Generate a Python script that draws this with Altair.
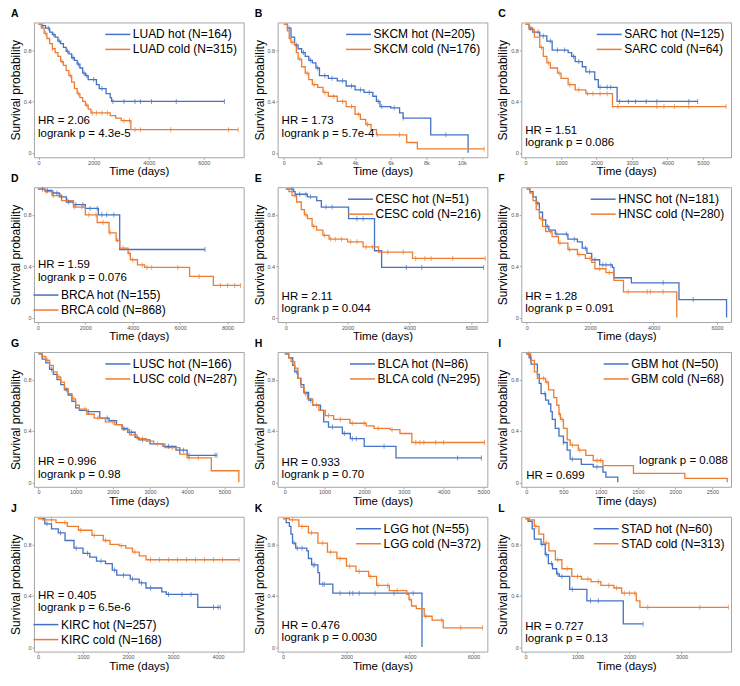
import altair as alt
import pandas as pd

FONT = "Liberation Sans"
BLUE = "#4472C4"
ORANGE = "#ED7D31"

# ---------------- survival step curves: (time in days, survival probability) ----------------
LUAD_hot = [(0,1.0),(100,0.99),(250,0.97),(400,0.94),(500,0.92),(600,0.90),(700,0.87),(800,0.85),(900,0.82),(1000,0.79),(1100,0.77),(1200,0.74),(1300,0.72),(1400,0.69),(1500,0.66),(1600,0.62),(1700,0.60),(1800,0.57),(2100,0.53),(2200,0.50),(2450,0.46),(2600,0.43),(2650,0.40),(6750,0.40)]
LUAD_cold = [(0,1.0),(100,0.97),(200,0.93),(300,0.89),(400,0.85),(500,0.81),(600,0.78),(700,0.75),(800,0.71),(900,0.68),(1000,0.64),(1100,0.60),(1200,0.55),(1300,0.50),(1400,0.46),(1500,0.43),(1600,0.40),(1700,0.37),(1800,0.34),(1900,0.31),(2600,0.29),(2800,0.27),(3000,0.25),(3350,0.18),(7250,0.18)]
SKCM_hot = [(0,1.0),(200,0.97),(400,0.90),(600,0.84),(800,0.81),(1000,0.78),(1200,0.75),(1400,0.72),(1600,0.70),(1800,0.66),(2000,0.60),(2500,0.58),(3000,0.56),(3500,0.52),(4000,0.49),(4500,0.47),(5000,0.44),(5200,0.40),(5400,0.36),(6000,0.35),(6500,0.31),(6700,0.27),(8250,0.14),(10350,0.0)]
SKCM_cold = [(0,1.0),(200,0.95),(300,0.89),(400,0.86),(600,0.84),(700,0.78),(800,0.73),(1000,0.67),(1200,0.62),(1400,0.57),(1600,0.53),(1900,0.51),(2200,0.47),(2500,0.44),(3000,0.40),(3500,0.36),(4000,0.30),(4300,0.26),(4600,0.22),(4900,0.18),(5200,0.14),(6900,0.08),(7500,0.03),(11250,0.03)]
SARC_hot = [(0,1.0),(100,0.97),(200,0.94),(400,0.91),(600,0.87),(750,0.80),(1200,0.78),(1300,0.75),(1400,0.71),(1600,0.67),(1700,0.63),(1950,0.57),(2050,0.51),(2580,0.40),(4850,0.40)]
SARC_cold = [(0,1.0),(100,0.96),(250,0.90),(400,0.82),(500,0.75),(600,0.70),(700,0.66),(900,0.62),(1000,0.58),(1200,0.53),(1400,0.49),(1700,0.46),(2450,0.36),(5650,0.36)]
BRCA_hot = [(0,1.0),(300,0.99),(600,0.97),(900,0.94),(1200,0.90),(1500,0.88),(2000,0.85),(2550,0.80),(3450,0.53),(7050,0.53)]
BRCA_cold = [(0,1.0),(300,0.98),(600,0.95),(1000,0.91),(1500,0.86),(2000,0.80),(2500,0.74),(3000,0.66),(3300,0.60),(3450,0.54),(3800,0.50),(3900,0.45),(4200,0.41),(4500,0.39),(6400,0.32),(7400,0.25),(8550,0.25)]
CESC_hot = [(0,1.0),(250,0.98),(300,0.96),(700,0.94),(1000,0.91),(1150,0.86),(2030,0.77),(2870,0.52),(3100,0.39),(6400,0.39)]
CESC_cold = [(0,1.0),(100,0.98),(200,0.95),(350,0.90),(500,0.84),(600,0.80),(700,0.77),(850,0.71),(1000,0.68),(1200,0.64),(1400,0.61),(2000,0.59),(2500,0.55),(3000,0.51),(4100,0.46),(6450,0.46)]
HNSC_hot = [(0,1.0),(100,0.98),(200,0.94),(300,0.89),(400,0.82),(500,0.76),(600,0.71),(700,0.68),(900,0.65),(1300,0.61),(1600,0.59),(1750,0.54),(1900,0.50),(2050,0.45),(2300,0.41),(2700,0.39),(2750,0.31),(3300,0.27),(4800,0.14),(6300,0.0)]
HNSC_cold = [(0,1.0),(100,0.97),(200,0.91),(300,0.84),(400,0.77),(500,0.71),(600,0.67),(800,0.63),(1000,0.58),(1300,0.53),(1600,0.49),(1850,0.46),(2050,0.43),(2150,0.38),(2500,0.35),(2750,0.29),(3050,0.20),(4730,0.0)]
LUSC_hot = [(0,1.0),(100,0.96),(200,0.93),(300,0.88),(400,0.84),(500,0.80),(600,0.76),(700,0.72),(800,0.68),(900,0.63),(1000,0.58),(1100,0.56),(1300,0.55),(1650,0.50),(1900,0.48),(2100,0.45),(2250,0.42),(2400,0.39),(2600,0.35),(2700,0.33),(3000,0.30),(3350,0.28),(3700,0.25),(4000,0.21),(4800,0.21)]
LUSC_cold = [(0,1.0),(100,0.98),(200,0.95),(300,0.91),(400,0.86),(500,0.82),(600,0.78),(700,0.73),(800,0.69),(900,0.65),(1000,0.60),(1100,0.57),(1300,0.53),(1500,0.50),(1800,0.47),(2050,0.45),(2250,0.41),(2450,0.37),(2650,0.34),(2900,0.32),(3100,0.30),(3400,0.27),(3800,0.22),(4000,0.19),(4650,0.09),(5390,0.0)]
BLCA_hot = [(0,1.0),(100,0.97),(200,0.91),(250,0.86),(330,0.81),(400,0.76),(480,0.70),(600,0.64),(700,0.60),(900,0.56),(980,0.47),(1100,0.43),(1450,0.38),(1650,0.34),(2000,0.28),(2800,0.19),(4950,0.19)]
BLCA_cold = [(0,1.0),(100,0.97),(160,0.94),(250,0.89),(330,0.81),(410,0.74),(490,0.69),(570,0.65),(700,0.60),(860,0.56),(1020,0.52),(1230,0.49),(1640,0.46),(2050,0.44),(2250,0.42),(2650,0.41),(2900,0.38),(3200,0.31),(5030,0.31)]
GBM_hot = [(0,1.0),(40,0.97),(65,0.92),(150,0.84),(175,0.77),(200,0.69),(260,0.64),(300,0.61),(330,0.55),(350,0.49),(390,0.42),(440,0.36),(500,0.31),(550,0.25),(590,0.18),(740,0.14),(900,0.12),(1030,0.08),(1070,0.04),(1230,0.0)]
GBM_cold = [(0,1.0),(60,0.95),(110,0.86),(150,0.81),(260,0.78),(300,0.72),(370,0.66),(410,0.60),(440,0.53),(460,0.49),(500,0.42),(550,0.33),(590,0.29),(700,0.25),(800,0.21),(900,0.17),(1030,0.13),(1440,0.07),(2130,0.03),(2700,0.0)]
KIRC_hot = [(0,1.0),(150,0.96),(300,0.92),(450,0.89),(600,0.83),(800,0.77),(1000,0.73),(1150,0.70),(1300,0.67),(1500,0.65),(1650,0.60),(1750,0.56),(2050,0.53),(2250,0.50),(2400,0.46),(2750,0.43),(2850,0.41),(3550,0.31),(4050,0.31)]
KIRC_cold = [(0,1.0),(100,0.99),(400,0.97),(650,0.94),(900,0.91),(1200,0.87),(1450,0.83),(1600,0.80),(1800,0.79),(1950,0.77),(2100,0.74),(2250,0.71),(2400,0.68),(4470,0.68)]
LGG_hot = [(0,1.0),(100,0.97),(200,0.94),(250,0.88),(300,0.81),(400,0.77),(750,0.75),(800,0.69),(900,0.64),(1100,0.58),(1150,0.49),(1570,0.42),(4380,0.0)]
LGG_cold = [(0,1.0),(200,0.99),(500,0.94),(800,0.89),(1100,0.81),(1400,0.74),(1700,0.69),(2000,0.63),(2300,0.59),(2700,0.55),(2950,0.48),(3350,0.44),(3900,0.41),(3970,0.37),(4050,0.32),(4200,0.30),(4450,0.24),(4700,0.21),(5050,0.15),(6290,0.15)]
STAD_hot = [(0,1.0),(50,0.98),(130,0.92),(170,0.84),(300,0.80),(380,0.72),(440,0.65),(520,0.61),(600,0.57),(650,0.55),(850,0.45),(1180,0.36),(1880,0.18),(2260,0.18)]
STAD_cold = [(0,1.0),(75,0.99),(170,0.94),(260,0.88),(350,0.81),(450,0.75),(575,0.68),(700,0.61),(890,0.55),(1075,0.53),(1260,0.51),(1450,0.48),(1700,0.46),(1850,0.42),(2130,0.36),(2200,0.31),(3900,0.31)]

# ---------------- censoring times (days) ----------------
LUAD_hot_cens = [150,350,550,750,1050,1250,1450,1650,1750,2000,2300,2700,3100,3500,3700,4100,5000,6750]
LUAD_cold_cens = [250,500,850,1150,1450,1750,1950,2100,2300,2500,3100,3300,3500,3700,4800,6900,7250]
SKCM_hot_cens = [300,700,1100,1500,1900,2300,2700,3300,3800,4300,4800,5300,5500,6200,6700,9100]
SKCM_cold_cens = [450,900,1300,1700,2300,2800,3300,3800,4200,4700,5250,6500,11250]
SARC_hot_cens = [150,350,500,700,900,1100,1350,1500,1800,2100,2300,2400,2650,2900,3100,3400,3700,4600,4850]
SARC_cold_cens = [200,450,650,950,1250,1500,1750,1900,2100,2300,2600,3700,3900,4200,4600,5650]
BRCA_hot_cens = [200,400,650,800,1000,1300,1600,1900,2200,2500,2700,2900,3200,7050]
BRCA_cold_cens = [350,650,950,1250,1550,1850,2150,2450,2750,3050,3350,3600,3850,4000,4400,4600,4800,5900,6800,7700,8000,8300,8550]
CESC_hot_cens = [200,450,650,800,1300,1500,2300,2500,3900,4400,6400]
CESC_cold_cens = [300,650,900,1250,1450,1600,1800,2100,2300,2600,2800,3300,3800,4200,4500,4700,5400,6450]
HNSC_hot_cens = [350,650,950,1250,1500,1850,2150,2400,2500,2650,4300,5250]
HNSC_cold_cens = [450,750,1050,1350,1650,2000,2300,2600,3200,3800,3900,4300]
LUSC_hot_cens = [350,750,1350,1850,2300,2500,2800,3500,3800,3900,4050,4750,4800]
LUSC_cold_cens = [250,550,950,1250,1600,2000,2400,2800,3200,3600,4050,4300]
BLCA_hot_cens = [300,650,1200,1500,1700,1800,2500,4350,4950]
BLCA_cold_cens = [200,520,800,1100,1400,1700,2000,2350,2700,3300,3400,3500,3800,4000,5030]
GBM_hot_cens = [60,250,500,620,950]
GBM_cold_cens = [30,230,280,450,480,620,720,950,1000]
KIRC_hot_cens = [200,500,850,1100,1400,1700,1900,2100,2300,2500,2900,3200,3400,3900,4000,4050]
KIRC_cold_cens = [300,600,950,1250,1500,1850,2150,2500,2700,2900,3100,3300,3500,3700,3900,4100,4470]
LGG_hot_cens = [350,450,600,950,1000,1250,1300,1800,2100,2200,2400,2900,3500,4100]
LGG_cold_cens = [300,600,900,1250,1500,1800,2100,2400,2750,3000,3300,3600,4000,4500,5000,5600,6290]
STAD_hot_cens = [320,400,500,620,700,900,1250,1400,2260]
STAD_cold_cens = [200,400,620,800,1000,1200,1400,1600,1750,1900,2000,2100,2350,3350,3900]

# ---------------- panel contents ----------------
LETTERS = ["A","B","C","D","E","F","G","H","I","J","K","L"]
CANCERS = ["LUAD","SKCM","SARC","BRCA","CESC","HNSC","LUSC","BLCA","GBM","KIRC","LGG","STAD"]
N_HOT = [164,205,125,155,51,181,166,86,50,257,55,60]
N_COLD = [315,176,64,868,216,280,287,295,68,168,372,313]
HR = ["2.06","1.73","1.51","1.59","2.11","1.28","0.996","0.933","0.699","0.405","0.476","0.727"]
LOGRANK_P = ["4.3e-5","5.7e-4","0.086","0.076","0.044","0.091","0.98","0.70","0.088","6.5e-6","0.0030","0.13"]
HOT = [LUAD_hot,SKCM_hot,SARC_hot,BRCA_hot,CESC_hot,HNSC_hot,LUSC_hot,BLCA_hot,GBM_hot,KIRC_hot,LGG_hot,STAD_hot]
COLD = [LUAD_cold,SKCM_cold,SARC_cold,BRCA_cold,CESC_cold,HNSC_cold,LUSC_cold,BLCA_cold,GBM_cold,KIRC_cold,LGG_cold,STAD_cold]
HOT_CENS = [LUAD_hot_cens,SKCM_hot_cens,SARC_hot_cens,BRCA_hot_cens,CESC_hot_cens,HNSC_hot_cens,LUSC_hot_cens,BLCA_hot_cens,GBM_hot_cens,KIRC_hot_cens,LGG_hot_cens,STAD_hot_cens]
COLD_CENS = [LUAD_cold_cens,SKCM_cold_cens,SARC_cold_cens,BRCA_cold_cens,CESC_cold_cens,HNSC_cold_cens,LUSC_cold_cens,BLCA_cold_cens,GBM_cold_cens,KIRC_cold_cens,LGG_cold_cens,STAD_cold_cens]
X_TICKS = [
    [0,1000,2000,3000,4000,5000,6000,7000],
    [0,2000,4000,6000,8000,10000],
    [0,1000,2000,3000,4000,5000],
    [0,2000,4000,6000,8000],
    [0,1000,2000,3000,4000,5000,6000],
    [0,1000,2000,3000,4000,5000,6000],
    [0,1000,2000,3000,4000,5000],
    [0,1000,2000,3000,4000,5000],
    [0,500,1000,1500,2000,2500],
    [0,1000,2000,3000,4000],
    [0,1000,2000,3000,4000,5000,6000],
    [0,500,1000,1500,2000,2500,3000,3500],
]
Y_TICKS = [0, 0.2, 0.4, 0.6, 0.8, 1]

# ---------------- layout (positions / styles) ----------------
W, H = 210, 135
X_DOM = [(-170,7450),(-350,11430),(-120,5790),(-166,8680),(-265,6520),(-170,6440),
         (-120,5520),(-180,5100),(-66,2750),(-90,4570),(-170,6440),(-80,3950)]
K_LABELS = [False, True] + [False]*10
LEG_ORIENT = ["top-right"]*3 + ["bottom-left"] + ["top-right"]*5 + ["bottom-left"] + ["top-right"]*2
# distance (px) of the HR line and the logrank line above the plot bottom
HR_D = [36,36,26,57,25.5,25,25,24,10.5,56,26,25]
P_D = [23,23,14.5,44,13,13,11.5,11.5,26,44,13.5,13]


def surv_at(curve, t):
    s = curve[0][1]
    for tt, ss in curve:
        if tt <= t:
            s = ss
        else:
            break
    return s


def panel(i):
    lab_h = f"{CANCERS[i]} hot (N={N_HOT[i]})"
    lab_c = f"{CANCERS[i]} cold (N={N_COLD[i]})"
    rows = [{"t": t, "s": s, "g": lab_h} for t, s in HOT[i]] + \
           [{"t": t, "s": s, "g": lab_c} for t, s in COLD[i]]
    crow = [{"t": t, "s": surv_at(HOT[i], t), "g": lab_h} for t in HOT_CENS[i]] + \
           [{"t": t, "s": surv_at(COLD[i], t), "g": lab_c} for t in COLD_CENS[i]]
    cscale = alt.Scale(domain=[lab_h, lab_c], range=[BLUE, ORANGE])
    if K_LABELS[i]:
        lexpr = "datum.value == 0 ? '0' : (datum.value / 1000) + 'k'"
    else:
        lexpr = "format(datum.value, 'd')"
    x = alt.X("t:Q", scale=alt.Scale(domain=list(X_DOM[i]), nice=False, zero=False),
              axis=alt.Axis(values=X_TICKS[i], labelExpr=lexpr, title="Time (days)",
                            labelFlush=False, labelOverlap=False, labelSeparation=0, labelBound=False))
    y = alt.Y("s:Q", scale=alt.Scale(domain=[-0.035, 1.015], nice=False, zero=False),
              axis=alt.Axis(values=Y_TICKS, labelExpr="format(datum.value, '~g')",
                            title="Survival probability",
                            labelOverlap=False, labelSeparation=0, labelBound=False))
    lines = alt.Chart(pd.DataFrame(rows)).mark_line(interpolate="step-after", strokeWidth=1.3).encode(
        x=x, y=y,
        color=alt.Color("g:N", scale=cscale, sort=[lab_h, lab_c],
                        legend=alt.Legend(title=None, orient=LEG_ORIENT[i], symbolType="M-2.5,0L2.5,0",
                                          symbolSize=100, symbolStrokeWidth=1.5, labelFontSize=12,
                                          labelFont=FONT, labelColor="black", labelOffset=9,
                                          rowPadding=3, offset=6, padding=0)))
    cens = alt.Chart(pd.DataFrame(crow)).mark_tick(orient="vertical", size=5, thickness=1).encode(
        x="t:Q", y="s:Q", color=alt.Color("g:N", scale=cscale, legend=None))
    hr_x = 5 if LETTERS[i] == "I" else 4
    hr = alt.Chart(pd.DataFrame({"v": [f"HR = {HR[i]}"]})).mark_text(
        align="left", baseline="middle", fontSize=11.5, font=FONT, color="black").encode(
        text="v:N", x=alt.value(hr_x), y=alt.value(H - HR_D[i]))
    if LETTERS[i] == "I":
        pt = alt.Chart(pd.DataFrame({"v": [f"logrank p = {LOGRANK_P[i]}"]})).mark_text(
            align="right", baseline="middle", fontSize=11.5, font=FONT, color="black").encode(
            text="v:N", x=alt.value(W - 3), y=alt.value(H - P_D[i]))
    else:
        pt = alt.Chart(pd.DataFrame({"v": [f"logrank p = {LOGRANK_P[i]}"]})).mark_text(
            align="left", baseline="middle", fontSize=11.5, font=FONT, color="black").encode(
            text="v:N", x=alt.value(4), y=alt.value(H - P_D[i]))
    return alt.layer(lines, cens, hr, pt).properties(
        width=W, height=H,
        title=alt.TitleParams(LETTERS[i], anchor="start", frame="group", dx=-23, offset=2,
                              fontSize=10.5, fontWeight="bold", font=FONT, color="black"))


panels = [panel(i) for i in range(12)]

chart = alt.concat(*panels, columns=3, spacing={"row": 30, "column": 34}, bounds="flush").resolve_scale(
    x="independent", y="independent", color="independent"
).resolve_legend(color="independent").properties(
    padding={"left": 0, "top": 0, "right": 0, "bottom": 0}
).configure(font=FONT).configure_view(
    stroke="#a6a6a6", strokeWidth=1
).configure_axis(
    domain=False, grid=False, tickSize=2, tickColor="#a6a6a6", labelFontSize=5.5,
    labelColor="#555555", labelFont=FONT, titleFont=FONT, titleFontWeight="normal",
    titleColor="black", labelPadding=1, titlePadding=1, labelOverlap=False
).configure_axisX(titleFontSize=11.5, titlePadding=0).configure_axisY(titleFontSize=12)

chart.save("out.html", embed_options={"renderer": "svg", "actions": False})
